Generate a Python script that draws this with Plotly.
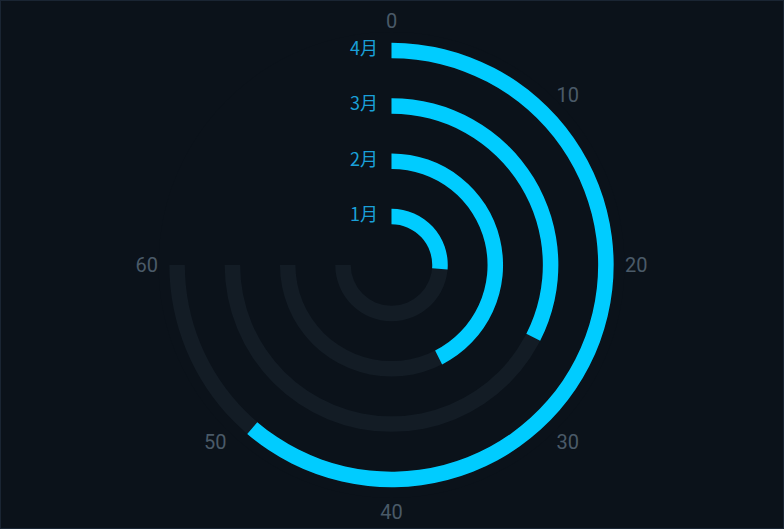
import plotly.graph_objects as go

# data
months = ["1月", "2月", "3月", "4月"]
values = [21, 34, 26, 49]
track_max = 60
axis_max = 80
tick_labels = [0, 10, 20, 30, 40, 50, 60]

# geometry (pixels, radial axis range is in px)
R = 233
CX, CY = 391.5, 265
W, H = 784, 529
ring0 = 48.5
ring_step = 55.3
thick = 15.5

deg = 360 / axis_max
rings = [ring0 + ring_step * i for i in range(len(months))]
bases = [r - thick / 2 for r in rings]

fig = go.Figure()

# background track 0..60
fig.add_trace(go.Barpolar(
    r=[thick] * len(months),
    base=bases,
    theta=[track_max * deg / 2] * len(months),
    width=[track_max * deg] * len(months),
    marker=dict(color="#131c25", line=dict(width=0)),
    hoverinfo="skip",
    showlegend=False,
))

# value bars
fig.add_trace(go.Barpolar(
    r=[thick] * len(months),
    base=bases,
    theta=[v * deg / 2 for v in values],
    width=[v * deg for v in values],
    marker=dict(color="#00ccff", line=dict(width=0)),
    customdata=list(zip(months, values)),
    hovertemplate="%{customdata[0]}: %{customdata[1]}<extra></extra>",
    showlegend=False,
))

# month labels at the start of each bar (invisible marker pushes text left)
fig.add_trace(go.Scatterpolar(
    r=rings,
    theta=[0] * len(months),
    mode="markers+text",
    text=months,
    textposition="middle left",
    marker=dict(size=20, color="rgba(0,0,0,0)"),
    textfont=dict(family="Noto Sans CJK SC", size=18, color="#1aa0d8"),
    hoverinfo="skip",
    showlegend=False,
))

fig.update_layout(
    width=W,
    height=H,
    margin=dict(l=0, r=0, t=0, b=0),
    paper_bgcolor="#0b121a",
    plot_bgcolor="#0b121a",
    polar=dict(
        bgcolor="#0b121a",
        barmode="overlay",
        domain=dict(
            x=[(CX - R) / W, (CX + R) / W],
            y=[(H - CY - R) / H, (H - CY + R) / H],
        ),
        radialaxis=dict(range=[0, R], visible=False),
        angularaxis=dict(
            rotation=90,
            direction="clockwise",
            tickmode="array",
            tickvals=[t * deg for t in tick_labels],
            ticktext=[str(t) for t in tick_labels],
            showgrid=False,
            showline=False,
            ticks="",
            tickfont=dict(family="Roboto", size=20, color="#4a5a68"),
        ),
    ),
    shapes=[dict(
        type="rect", xref="paper", yref="paper",
        x0=0, y0=0, x1=1, y1=1,
        line=dict(color="#1a2533", width=2),
    )],
)

fig.write_html(
    "out.html",
    config={"displayModeBar": False},
    post_script="document.body.style.margin='0';",
)
